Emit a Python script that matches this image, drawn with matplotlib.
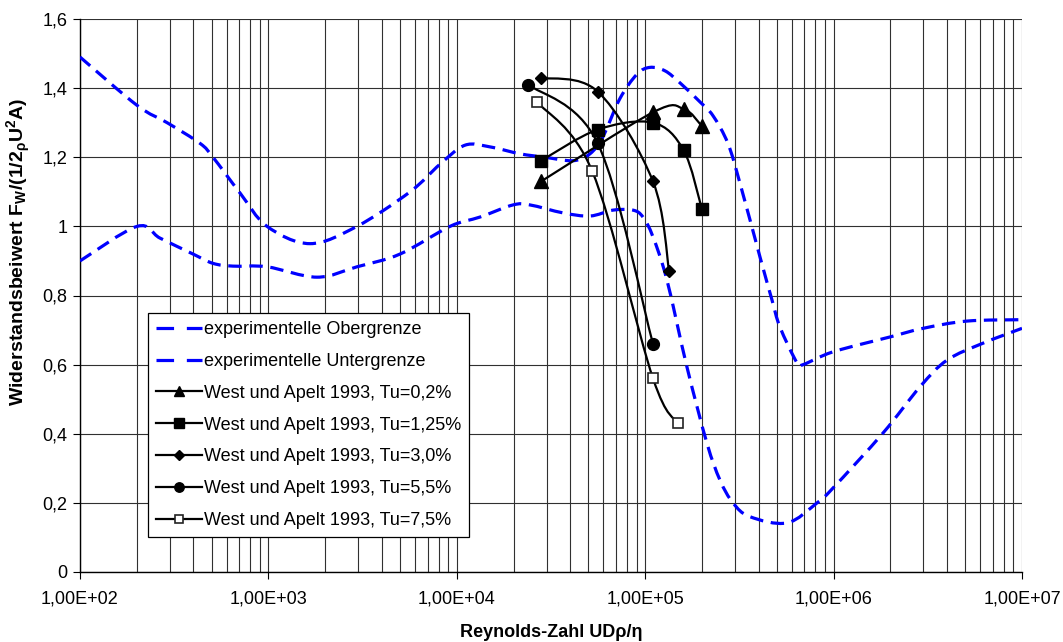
import numpy as np
import matplotlib
matplotlib.use("Agg")
import matplotlib.pyplot as plt
from matplotlib.path import Path
from matplotlib.patches import PathPatch
from matplotlib.lines import Line2D
from matplotlib.ticker import FixedLocator, FixedFormatter, NullFormatter

plt.rcParams['font.family'] = ['Liberation Sans', 'DejaVu Sans']
plt.rcParams['mathtext.fontset'] = 'custom'
plt.rcParams['mathtext.rm'] = 'Liberation Sans:bold'
plt.rcParams['mathtext.it'] = 'Liberation Sans:bold'
plt.rcParams['mathtext.bf'] = 'Liberation Sans:bold'
plt.rcParams['mathtext.sf'] = 'Liberation Sans:bold'

# ---------------- data ----------------
ober_re = [100, 201, 290, 434, 508, 706, 984, 1663, 2951, 5649, 8147, 11066, 15000,
           21630, 29380, 41400, 50930, 59700, 73450, 90360, 105900, 127400, 153100,
           195400, 229100, 274800, 318400, 407400, 471000, 518800, 639700, 688700,
           993100, 1.99e6, 2.985e6, 5.105e6, 1e7]
ober_cw = [1.49, 1.35, 1.30, 1.24, 1.20, 1.097, 1.00, 0.95, 1.00, 1.10, 1.18, 1.235, 1.23,
           1.21, 1.20, 1.19, 1.21, 1.26, 1.37, 1.44, 1.46, 1.45, 1.415,
           1.36, 1.32, 1.24, 1.125, 0.91, 0.787, 0.709, 0.605, 0.60,
           0.637, 0.68, 0.705, 0.726, 0.73]

unter_re = [100, 201, 266, 398, 508, 649, 984, 1811, 2951, 5000, 9200, 13280, 19860,
            24470, 36640, 50930, 67450, 86100, 97300, 109900, 130400, 166600, 212600,
            249400, 292400, 359700, 566200, 816600, 993100, 1.829e6, 2.877e6, 4.0e6,
            6.21e6, 1e7]
unter_cw = [0.90, 1.00, 0.966, 0.92, 0.893, 0.885, 0.883, 0.853, 0.883, 0.92, 1.00, 1.027, 1.062,
            1.062, 1.039, 1.03, 1.047, 1.047, 1.027, 0.97, 0.845, 0.593, 0.373,
            0.266, 0.20, 0.16, 0.142, 0.20, 0.243, 0.402, 0.536, 0.613,
            0.662, 0.705]

tu02_re = [28000, 110000, 160000, 200000]
tu02_cw = [1.13, 1.33, 1.34, 1.29]

tu125_re = [28000, 56000, 110000, 160000, 200000]
tu125_cw = [1.19, 1.28, 1.30, 1.22, 1.05]

tu30_re = [28000, 56000, 110000, 134000]
tu30_cw = [1.43, 1.39, 1.13, 0.87]

tu55_re = [24000, 56000, 110000]
tu55_cw = [1.41, 1.24, 0.66]

tu75_re = [26700, 52300, 110000, 149000]
tu75_cw = [1.36, 1.16, 0.56, 0.43]

x_ticks = [1e2, 1e3, 1e4, 1e5, 1e6, 1e7]
x_ticklabels = ['1,00E+02', '1,00E+03', '1,00E+04', '1,00E+05', '1,00E+06', '1,00E+07']
y_ticks = [0, 0.2, 0.4, 0.6, 0.8, 1.0, 1.2, 1.4, 1.6]
y_ticklabels = ['0', '0,2', '0,4', '0,6', '0,8', '1', '1,2', '1,4', '1,6']

labels = ['experimentelle Obergrenze', 'experimentelle Untergrenze',
          'West und Apelt 1993, Tu=0,2%', 'West und Apelt 1993, Tu=1,25%',
          'West und Apelt 1993, Tu=3,0%', 'West und Apelt 1993, Tu=5,5%',
          'West und Apelt 1993, Tu=7,5%']


def smooth_path(xs, ys):
    """Excel-like smoothed line: cubic Bezier segments (Catmull-Rom control points)
    computed in log10(x)/y space."""
    u = np.log10(np.asarray(xs, float))
    v = np.asarray(ys, float)
    n = len(u)
    verts = [(u[0], v[0])]
    codes = [Path.MOVETO]
    for i in range(n - 1):
        p0 = np.array([u[max(i - 1, 0)], v[max(i - 1, 0)]])
        p1 = np.array([u[i], v[i]])
        p2 = np.array([u[i + 1], v[i + 1]])
        p3 = np.array([u[min(i + 2, n - 1)], v[min(i + 2, n - 1)]])
        c1 = p1 + (p2 - p0) / 6.0
        c2 = p2 - (p3 - p1) / 6.0
        verts += [tuple(c1), tuple(c2), tuple(p2)]
        codes += [Path.CURVE4] * 3
    verts = np.array(verts)
    verts[:, 0] = 10 ** verts[:, 0]
    return Path(verts, codes)


fig = plt.figure(figsize=(10.63, 6.42), dpi=100)
ax = fig.add_axes([80 / 1063, 1 - 572 / 642, 942 / 1063, 553 / 642])
ax.set_xscale('log')
ax.set_xlim(1e2, 1e7)
ax.set_ylim(0, 1.6)

blue = '#0000FF'
dash_lw = 2.3
dash_ls = (0, (4.2, 2.4))

# grid
ax.set_yticks(y_ticks)
ax.set_yticklabels(y_ticklabels)
ax.xaxis.set_major_locator(FixedLocator(x_ticks))
ax.xaxis.set_major_formatter(FixedFormatter(x_ticklabels))
minors = [m * 10 ** e for e in range(2, 7) for m in range(2, 10)]
ax.xaxis.set_minor_locator(FixedLocator(minors))
ax.xaxis.set_minor_formatter(NullFormatter())
ax.grid(True, which='major', axis='both', color='#303030', lw=0.8)
ax.grid(True, which='minor', axis='x', color='#303030', lw=0.8)
ax.set_axisbelow(True)
ax.tick_params(axis='x', which='minor', length=0)
ax.tick_params(axis='x', which='major', length=5, direction='out', labelsize=13, pad=8)
ax.tick_params(axis='y', which='major', length=5, direction='out', labelsize=13, pad=4)
for s in ['top', 'right']:
    ax.spines[s].set_visible(False)
for s in ['left', 'bottom']:
    ax.spines[s].set_color('black')
    ax.spines[s].set_linewidth(1.0)

# boundary curves
for xs, ys in [(ober_re, ober_cw), (unter_re, unter_cw)]:
    ax.add_patch(PathPatch(smooth_path(xs, ys), fill=False, edgecolor=blue,
                           lw=dash_lw, linestyle=dash_ls, capstyle='butt', zorder=3))

series = [
    (tu02_re, tu02_cw, dict(marker='^', ms=9.5, mfc='black', mec='black')),
    (tu125_re, tu125_cw, dict(marker='s', ms=8.5, mfc='black', mec='black')),
    (tu30_re, tu30_cw, dict(marker='D', ms=6.5, mfc='black', mec='black')),
    (tu55_re, tu55_cw, dict(marker='o', ms=8.5, mfc='black', mec='black')),
    (tu75_re, tu75_cw, dict(marker='s', ms=7.5, mfc='white', mec='#222222', mew=1.2)),
]
for xs, ys, mk in series:
    ax.add_patch(PathPatch(smooth_path(xs, ys), fill=False, edgecolor='black',
                           lw=1.6, zorder=4))
    ax.plot(xs, ys, ls='none', zorder=5, **mk)

legend_dash = (0, (5.5, 4.0))
handles = [Line2D([], [], color=blue, lw=dash_lw, ls=legend_dash),
           Line2D([], [], color=blue, lw=dash_lw, ls=legend_dash)]
for _, _, mk in series:
    m = dict(mk)
    m['ms'] = m['ms'] * 0.8
    handles.append(Line2D([], [], color='black', lw=1.6, **m))

leg = ax.legend(handles, labels, loc='lower left', bbox_to_anchor=(0.072, 0.063),
                fontsize=13, frameon=True, fancybox=False, framealpha=1,
                edgecolor='black', borderaxespad=0, handlelength=2.55,
                handletextpad=0.1, labelspacing=0.82, borderpad=0.45)
leg.get_frame().set_linewidth(0.9)
leg.set_zorder(10)

ax.set_xlabel('Reynolds-Zahl UDρ/η', fontsize=13, fontweight='bold', labelpad=12)
ax.set_ylabel(r'Widerstandsbeiwert $\mathrm{F_W/(1/2_{\rho}U^2A)}$', fontsize=14,
              fontweight='bold')
ax.yaxis.set_label_coords(-0.05, 0.579)

fig.savefig('out.png', dpi=100)
